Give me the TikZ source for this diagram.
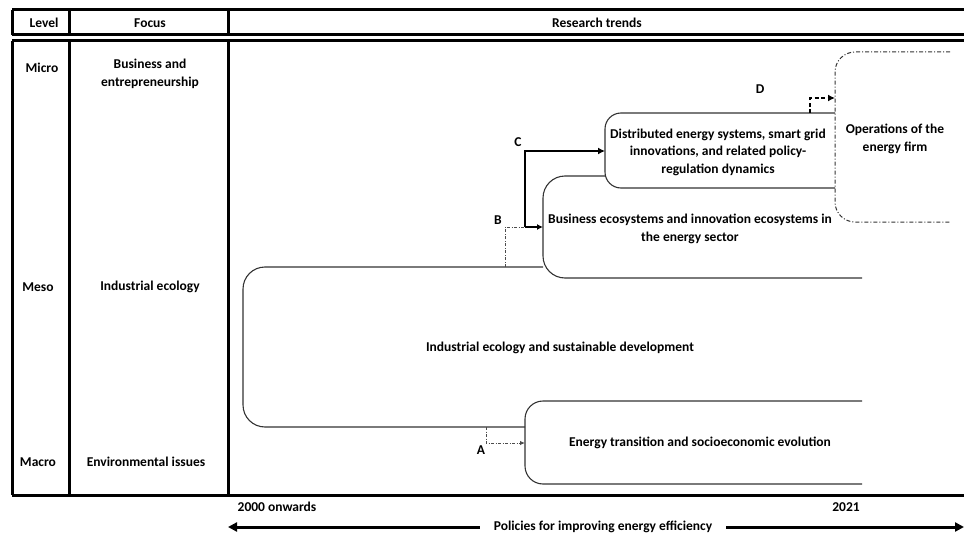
\documentclass[tikz,border=0pt]{standalone}
\usepackage{fontspec}
\setmainfont{Carlito}
\usetikzlibrary{positioning,arrows.meta}
\tikzset{
  lb/.style={font=\bfseries\fontsize{13.5}{17.5}\selectfont, align=center, inner sep=1pt},
  tl/.style={line width=3pt},
  bx/.style={line width=1.1pt, draw=black!80, rounded corners=22pt},
  dd/.style={dash pattern=on 3pt off 1.5pt on 1pt off 1.5pt, line width=0.9pt, draw=black!70, -{Latex[length=5pt,width=4.5pt]}},
  node distance=4pt
}
\begin{document}
\begin{tikzpicture}[x=1pt,y=-1pt]
	\useasboundingbox (0,0) rectangle (964,535);
	% table
	\draw[tl] (12,10) -- (964,10);
	\draw[tl] (12,35) -- (964,35);
	\draw[tl] (12,41) -- (964,41);
	\draw[tl] (12,495) -- (964,495);
	\draw[tl] (12,10) -- (12,35) (69,10) -- (69,35) (228,10) -- (228,35);
	\draw[tl] (12,41) -- (12,495) (69,41) -- (69,495) (228,41) -- (228,495);
	%
	\node[lb] (level) at (44,23) {Level};
	\node[lb] (focus) at (150,23) {Focus};
	\node[lb] (trends) at (597,23) {Research trends};
	\node[lb] (micro) at (42,68) {Micro};
	\node[lb] (busent) at (150,74) {Business and\\entrepreneurship};
	\node[lb] (meso) at (38,287) {Meso};
	\node[lb] (indeco) at (150,287) {Industrial ecology};
	\node[lb] (macro) at (38,462) {Macro};
	\node[lb] (envis) at (146,462) {Environmental issues};
	% trend boxes
	\draw[bx] (543,267) -- (243,267) -- (243,427) -- (525,427);
	\draw[bx, rounded corners=18pt] (862,401) -- (525,401) -- (525,484) -- (862,484);
	\draw[bx] (862,278) -- (543,278) -- (543,176) -- (605,176);
	\draw[bx, fill=white, rounded corners=16pt] (835,113) -- (605,113) -- (605,188) -- (835,188);
	\draw[bx, dash pattern=on 4pt off 2pt on 1pt off 2pt, line width=1pt, rounded corners=20pt] (950,52) -- (835,52) -- (835,222) -- (950,222);
	%
	\node[lb] (isd) at (560,348) {Industrial ecology and sustainable development};
	\node[lb] (ets) at (700,443) {Energy transition and socioeconomic evolution};
	\node[lb] (bie) at (690,229) {Business ecosystems and innovation ecosystems in\\the energy sector};
	\node[lb] (des) at (718,152) {Distributed energy systems, smart grid\\innovations, and related policy-\\regulation dynamics};
	\node[lb] (opf) at (895,139) {Operations of the\\energy firm};
	% links
	\coordinate (a0) at (486,427);
	\coordinate (a1) at (525,443);
	\coordinate (b0) at (505,267);
	\coordinate (c0) at (525,227);
	\coordinate (b1) at (543,227);
	\coordinate (c1) at (605,151);
	\coordinate (d0) at (810,113);
	\coordinate (d1) at (835,98);
	\draw[dd] (a0) |- (a1);
	\draw[dd, -] (b0) |- (c0);
	\draw[line width=2.4pt, -{Latex[length=6pt,width=6pt]}] (c0) -- (b1);
	\draw[line width=2.4pt, -{Latex[length=7pt,width=7pt]}] (c0) |- (c1);
	\draw[line width=2.8pt, dash pattern=on 4pt off 2.5pt, -{Latex[length=7pt,width=7pt]}] (d0) |- (d1);
	\node[lb] (labA) at (481,450) {A};
	\node[lb] (labB) at (498,220) {B};
	\node[lb] (labC) at (518,142) {C};
	\node[lb] (labD) at (760,89) {D};
	% time axis
	\node[lb] (start) at (277,507) {2000 onwards};
	\node[lb] (end) at (846,507) {2021};
	\coordinate (axl) at (228,527);
	\coordinate (axr) at (964,527);
	\draw[tl, {Triangle[length=9pt,width=9pt]}-{Triangle[length=9pt,width=9pt]}] (axl) -- (axr);
	\node[lb, fill=white, inner xsep=14pt] (pol) at (603,527) {Policies for improving energy efficiency};
\end{tikzpicture}
\end{document}
